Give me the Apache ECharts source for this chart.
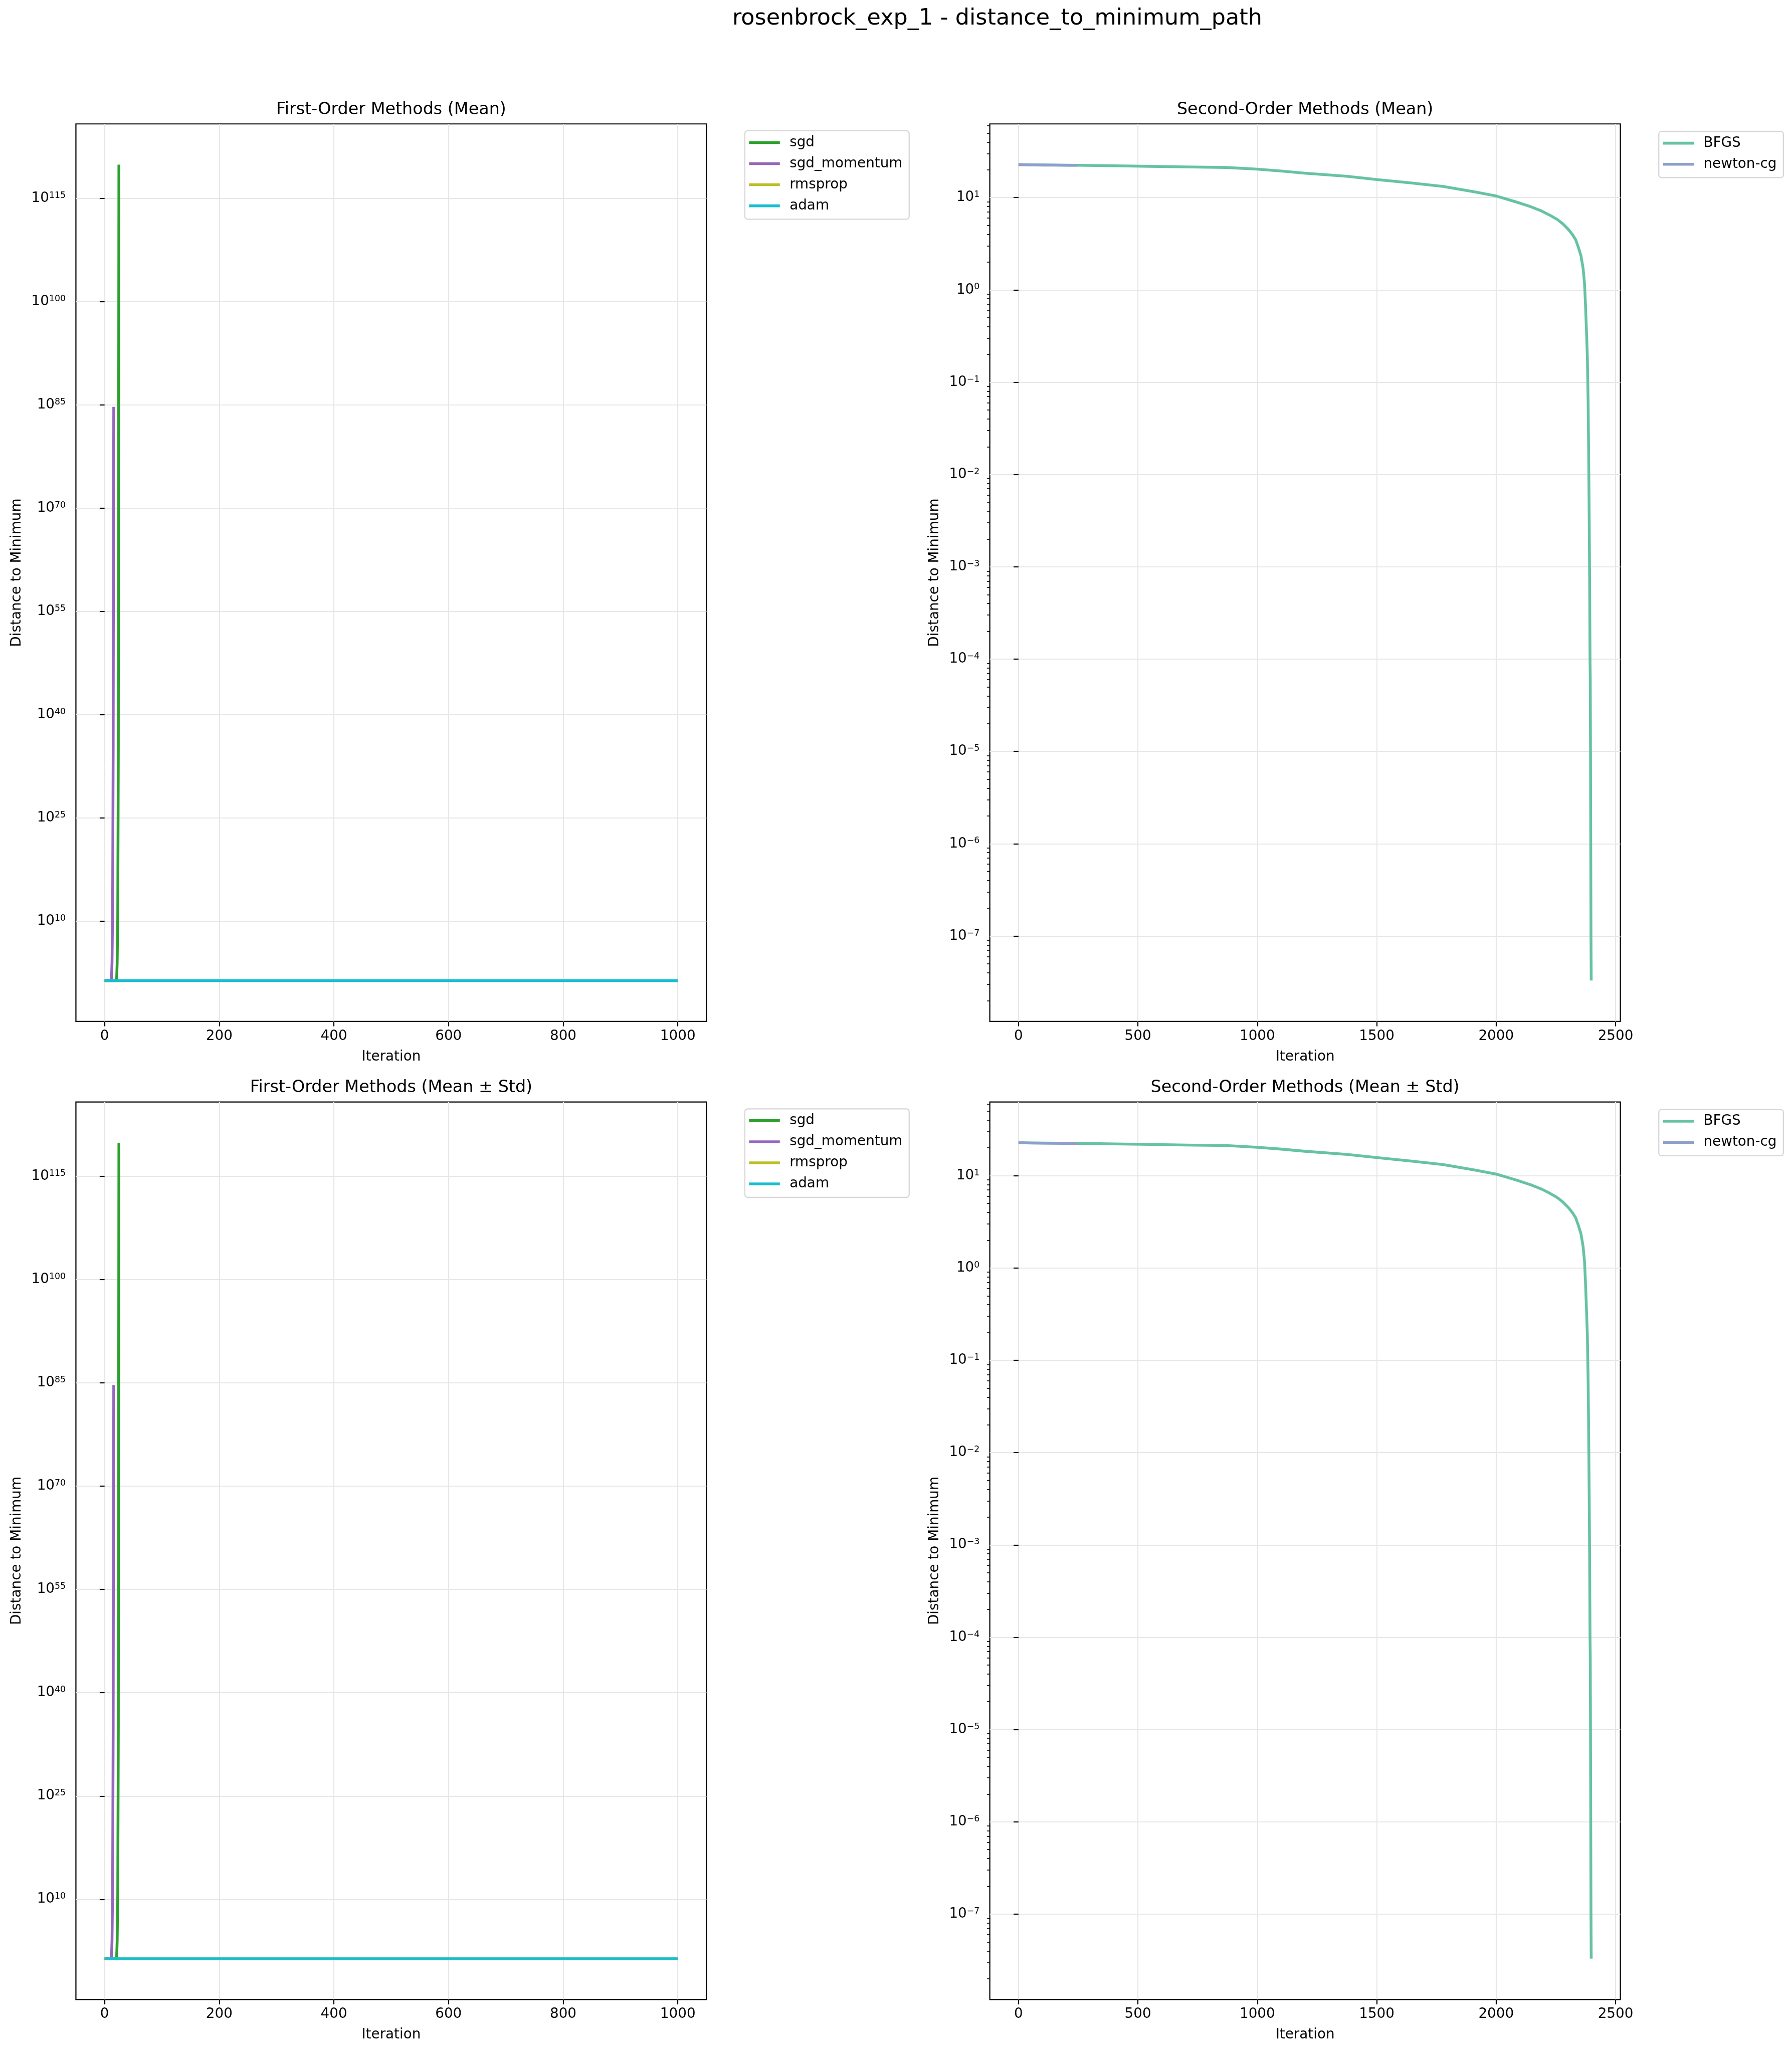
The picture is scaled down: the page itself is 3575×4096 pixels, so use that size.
<!DOCTYPE html>
<html>
<head>
<meta charset="utf-8">
<script src="https://cdn.jsdelivr.net/npm/echarts@6/dist/echarts.min.js"></script>
<style>
html,body{margin:0;padding:0;background:#ffffff;}
#chart{width:3575px;height:4096px;}
</style>
</head>
<body>
<div id="chart"></div>
<script>
// ---------------- text ----------------
const suptitle = 'rosenbrock_exp_1 - distance_to_minimum_path';
const panelTitles = [
  'First-Order Methods (Mean)',
  'Second-Order Methods (Mean)',
  'First-Order Methods (Mean \u00b1 Std)',
  'Second-Order Methods (Mean \u00b1 Std)'
];
const xAxisName = 'Iteration';
const yAxisName = 'Distance to Minimum';

const firstOrderNames = ['sgd', 'sgd_momentum', 'rmsprop', 'adam'];
const secondOrderNames = ['BFGS', 'newton-cg'];

// ---------------- data: [iteration, distance to minimum] ----------------
const sgd = [[0, 23.1], [21, 23.1], [22, 1e4], [23, 3e10], [24, 1e35], [25, 7.4e119]];
const sgdMomentum = [[0, 23.1], [12, 23.1], [13, 1e4], [14, 1e11], [15, 1e35], [16, 5e84]];
const rmsprop = [[0, 23.1], [250, 23.1], [500, 23.1], [750, 23.1], [1000, 23.1]];
const adam = [[0, 23.1], [250, 23.1], [500, 23.1], [750, 23.1], [1000, 23.1]];

const bfgs = [
  [0, 22.7], [100, 22.6], [250, 22.4], [400, 22.1], [550, 21.8], [700, 21.5], [870, 21.2],
  [1000, 20.3], [1100, 19.4], [1198, 18.4], [1376, 17.0], [1500, 15.7], [1644, 14.4],
  [1778, 13.2], [1912, 11.5], [2000, 10.4], [2046, 9.6], [2091, 8.85], [2145, 7.96],
  [2190, 7.16], [2225, 6.44], [2256, 5.79], [2279, 5.2], [2301, 4.56], [2319, 3.99],
  [2333, 3.49], [2344, 2.9], [2355, 2.35], [2364, 1.71], [2370, 1.17], [2374, 0.69],
  [2379, 0.31], [2382, 0.18], [2385, 0.06], [2387, 0.02], [2389, 5e-3], [2391, 1e-3],
  [2393, 1e-4], [2394, 6e-5], [2395, 1e-5], [2396, 1e-6], [2397, 1e-7], [2398, 3.3e-8]
];
const newtonCg = [[0, 22.8], [50, 22.6], [100, 22.5], [150, 22.45], [200, 22.4], [247, 22.4]];

// ---------------- ticks ----------------
const firstOrderXTicks = [0, 200, 400, 600, 800, 1000];
const secondOrderXTicks = [0, 500, 1000, 1500, 2000, 2500];
const firstOrderYTickExponents = [10, 25, 40, 55, 70, 85, 100, 115];
const secondOrderYTickExponents = [-7, -6, -5, -4, -3, -2, -1, 0, 1];
const minorMultipliers = [2, 3, 4, 5, 6, 7, 8, 9];
const minorDecades = [-8, -7, -6, -5, -4, -3, -2, -1, 0, 1];

// axis limits
const firstOrderXRange = [-50, 1050];
const secondOrderXRange = [-120, 2520];
const firstOrderYRangeExp = [-4.56, 125.79];
const secondOrderYRangeExp = [-7.925, 1.798];

// ---------------- styling ----------------
const S = 3575 / 5354;
const px = v => v * S;
const FONT = 'DejaVu Sans';
const colors = {
  'sgd': '#2ca02c', 'sgd_momentum': '#9467bd', 'rmsprop': '#bcbd22', 'adam': '#17becf',
  'BFGS': '#66c2a5', 'newton-cg': '#8da0cb'
};

const GRID_W = 1883.9, GRID_H = 2681.7;
const grids = [
  {left: px(226.8), top: px(370.3), width: px(GRID_W), height: px(GRID_H)},
  {left: px(2957.3), top: px(370.3), width: px(GRID_W), height: px(GRID_H)},
  {left: px(226.8), top: px(3292.8), width: px(GRID_W), height: px(GRID_H)},
  {left: px(2957.3), top: px(3292.8), width: px(GRID_W), height: px(GRID_H)}
].map(g => Object.assign({
  show: true, borderColor: '#000000', borderWidth: px(3.33), backgroundColor: '#ffffff', containLabel: false
}, g));

const pow10 = e => Math.pow(10, e);

function supLabel(v) {
  const e = Math.round(Math.log10(v));
  const s = e < 0 ? '\u2212' + (-e) : String(e);
  return '{b|10}{s|' + s + '}';
}

function xAxis(gridIndex, range, ticks) {
  return {
    type: 'value', gridIndex, min: range[0], max: range[1],
    name: xAxisName, nameLocation: 'middle', nameGap: px(84.6),
    nameTextStyle: {fontSize: px(41.67), color: '#000', fontFamily: FONT},
    axisLine: {show: false},
    axisTick: {show: true, length: px(14.6), lineStyle: {color: '#000', width: px(3.33)}, customValues: ticks},
    axisLabel: {show: true, customValues: ticks, margin: px(23.4), fontSize: px(41.67), color: '#000',
      fontFamily: FONT, formatter: v => String(v)},
    splitLine: {show: true, lineStyle: {color: '#e7e7e7', width: px(3.33)}},
    minorTick: {show: false}, minorSplitLine: {show: false}
  };
}

function yAxis(gridIndex, rangeExp, tickExps, nameGap) {
  const ticks = tickExps.map(pow10);
  return {
    type: 'log', logBase: 10, gridIndex, position: 'left',
    min: pow10(rangeExp[0]), max: pow10(rangeExp[1]),
    name: yAxisName, nameLocation: 'middle', nameRotate: 90, nameGap: px(nameGap),
    nameTextStyle: {fontSize: px(41.67), color: '#000', fontFamily: FONT},
    axisLine: {show: false},
    axisTick: {show: true, length: px(14.6), lineStyle: {color: '#000', width: px(3.33)}, customValues: ticks},
    axisLabel: {
      show: true, customValues: ticks, margin: px(30.4), formatter: supLabel,
      rich: {
        b: {fontSize: px(41.67), lineHeight: px(41.7), verticalAlign: 'bottom', color: '#000', fontFamily: FONT},
        s: {fontSize: px(26), lineHeight: px(25), verticalAlign: 'top', color: '#000', fontFamily: FONT}
      }
    },
    splitLine: {show: true, lineStyle: {color: '#e7e7e7', width: px(3.33)}},
    minorTick: {show: false}, minorSplitLine: {show: false}
  };
}

function minorYAxis(gridIndex, rangeExp) {
  const lo = pow10(rangeExp[0]), hi = pow10(rangeExp[1]);
  const minorTicks = [];
  minorDecades.forEach(d => minorMultipliers.forEach(m => {
    const v = m * pow10(d);
    if (v >= lo && v <= hi) minorTicks.push(v);
  }));
  return {
    type: 'log', logBase: 10, gridIndex, position: 'left', min: lo, max: hi,
    axisLine: {show: false},
    axisTick: {show: true, length: px(8.3), lineStyle: {color: '#000', width: px(2.5)}, customValues: minorTicks},
    axisLabel: {show: false},
    splitLine: {show: false}
  };
}

function lineSeries(name, data, xi, yi) {
  return {
    type: 'line', name, data, xAxisIndex: xi, yAxisIndex: yi,
    showSymbol: false, symbol: 'none', color: colors[name],
    lineStyle: {width: px(8.33), color: colors[name], cap: 'butt', join: 'round'},
    itemStyle: {color: colors[name]},
    emphasis: {disabled: true}, animation: false, clip: true, z: 3
  };
}

function legend(names, left, top) {
  return {
    show: true, orient: 'vertical', left: px(left), top: px(top),
    data: names.map(n => ({name: n, icon: 'rect', itemStyle: {color: colors[n]}})),
    itemWidth: px(92), itemHeight: px(8.33), itemGap: px(21),
    padding: [px(14.3), px(20), px(19), px(12.6)],
    backgroundColor: '#ffffff', borderColor: '#d6d6d6', borderWidth: px(3.33), borderRadius: px(8.3),
    textStyle: {fontSize: px(41.67), lineHeight: px(42), color: '#000', fontFamily: FONT,
      padding: [0, 0, 0, px(21.5)]},
    selectedMode: false
  };
}

const titleStyle = size => ({fontSize: px(size), fontWeight: 'normal', color: '#000', fontFamily: FONT});
const titles = [
  {text: suptitle, left: px(2979.5), top: px(56.7), textAlign: 'center', textVerticalAlign: 'middle', padding: 0, textStyle: titleStyle(66.67)},
  {text: panelTitles[0], left: px(1168.75), top: px(328.3), textAlign: 'center', textVerticalAlign: 'middle', padding: 0, textStyle: titleStyle(50)},
  {text: panelTitles[1], left: px(3899.25), top: px(328.3), textAlign: 'center', textVerticalAlign: 'middle', padding: 0, textStyle: titleStyle(50)},
  {text: panelTitles[2], left: px(1168.75), top: px(3250.8), textAlign: 'center', textVerticalAlign: 'middle', padding: 0, textStyle: titleStyle(50)},
  {text: panelTitles[3], left: px(3899.25), top: px(3250.8), textAlign: 'center', textVerticalAlign: 'middle', padding: 0, textStyle: titleStyle(50)}
];

const firstOrderData = {'sgd': sgd, 'sgd_momentum': sgdMomentum, 'rmsprop': rmsprop, 'adam': adam};
const secondOrderData = {'BFGS': bfgs, 'newton-cg': newtonCg};

const series = [];
[0, 2].forEach(i => firstOrderNames.forEach(n => series.push(lineSeries(n, firstOrderData[n], i, i))));
[1, 3].forEach(i => secondOrderNames.forEach(n => series.push(lineSeries(n, secondOrderData[n], i, i))));

const option = {
  animation: false,
  backgroundColor: '#ffffff',
  textStyle: {fontFamily: FONT},
  title: titles,
  grid: grids,
  xAxis: [
    xAxis(0, firstOrderXRange, firstOrderXTicks),
    xAxis(1, secondOrderXRange, secondOrderXTicks),
    xAxis(2, firstOrderXRange, firstOrderXTicks),
    xAxis(3, secondOrderXRange, secondOrderXTicks)
  ],
  yAxis: [
    yAxis(0, firstOrderYRangeExp, firstOrderYTickExponents, 156),
    yAxis(1, secondOrderYRangeExp, secondOrderYTickExponents, 143.5),
    yAxis(2, firstOrderYRangeExp, firstOrderYTickExponents, 156),
    yAxis(3, secondOrderYRangeExp, secondOrderYTickExponents, 143.5),
    minorYAxis(1, secondOrderYRangeExp),
    minorYAxis(3, secondOrderYRangeExp)
  ],
  legend: [
    legend(firstOrderNames, 2225.4, 390.7),
    legend(secondOrderNames, 4956, 392.5),
    legend(firstOrderNames, 2225.4, 390.7 + 2922.5),
    legend(secondOrderNames, 4956, 392.5 + 2922.5)
  ],
  series
};

const chart = echarts.init(document.getElementById('chart'), null, {renderer: 'canvas', width: 3575, height: 4096});
chart.setOption(option);
</script>
</body>
</html>
